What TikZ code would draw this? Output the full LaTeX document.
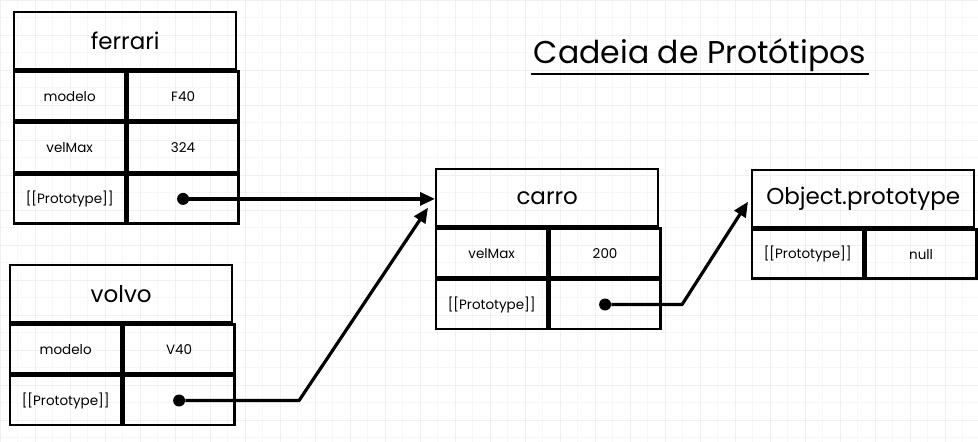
\documentclass[tikz,border=0pt]{standalone}
\usepackage{fontspec}
\setmainfont{Poppins}
\usetikzlibrary{positioning,arrows.meta}

\begin{document}
\begin{tikzpicture}[x=1pt,y=-1pt,
    header/.style={draw, line width=2.4pt, minimum width=222pt, minimum height=57pt,
        inner sep=0pt, font=\fontsize{23}{25}\selectfont},
    cell/.style={draw, line width=2.4pt, minimum width=111pt, minimum height=49pt,
        inner sep=0pt, font=\fontsize{13.5}{15}\selectfont},
    ptr/.style={circle, fill, inner sep=0pt, minimum size=12pt},
    link/.style={line width=3.2pt, line join=round, -{Triangle[length=15pt,width=13pt]}},
    gridline/.style={black!6, line width=0.6pt}]
    \useasboundingbox (0,0) rectangle (978,442);
    \fill [white] (0,0) rectangle (978,442);
    \begin{scope}
        \clip (0,0) rectangle (978,442);
        \draw [gridline, black!3, step=17.5pt] (-37,-25) grid (1013,477);
        \draw [gridline, step=35pt] (-37,-25) grid (1013,477);
    \end{scope}

    % title
    \node [font=\fontsize{31.5}{36}\selectfont, inner sep=0pt, anchor=base] (heading) at (700,63) {Cadeia de Protótipos};
    \draw [line width=2pt] ([xshift=-3pt,yshift=-11pt]heading.base west) -- ([xshift=3pt,yshift=-11pt]heading.base east);

    % ferrari
    \node [header, anchor=north west] (ferrari) at (13,11) {ferrari};
    \node [cell, anchor=north west] (ferrari-key1) at (ferrari.south west) {modelo};
    \node [cell, right=0pt of ferrari-key1] (ferrari-val1) {F40};
    \node [cell, below=0pt of ferrari-key1] (ferrari-key2) {velMax};
    \node [cell, right=0pt of ferrari-key2] (ferrari-val2) {324};
    \node [cell, below=0pt of ferrari-key2] (ferrari-key3) {[[Prototype]]};
    \node [cell, right=0pt of ferrari-key3] (ferrari-val3) {};
    \node [ptr] (ferrari-ptr) at (ferrari-val3) {};

    % volvo
    \node [header, anchor=north west] (volvo) at (9,264) {volvo};
    \node [cell, anchor=north west] (volvo-key1) at (volvo.south west) {modelo};
    \node [cell, right=0pt of volvo-key1] (volvo-val1) {V40};
    \node [cell, below=0pt of volvo-key1] (volvo-key2) {[[Prototype]]};
    \node [cell, right=0pt of volvo-key2] (volvo-val2) {};
    \node [ptr] (volvo-ptr) at (volvo-val2) {};

    % carro
    \node [header, anchor=north west] (carro) at (435,168) {carro};
    \node [cell, anchor=north west] (carro-key1) at (carro.south west) {velMax};
    \node [cell, right=0pt of carro-key1] (carro-val1) {200};
    \node [cell, below=0pt of carro-key1] (carro-key2) {[[Prototype]]};
    \node [cell, right=0pt of carro-key2] (carro-val2) {};
    \node [ptr] (carro-ptr) at (carro-val2) {};

    % Object.prototype
    \node [header, anchor=north west] (object) at (751,169) {Object.prototype};
    \node [cell, anchor=north west] (object-key1) at (object.south west) {[[Prototype]]};
    \node [cell, right=0pt of object-key1] (object-val1) {null};

    % prototype links
    \coordinate (volvo-bend) at ([xshift=120pt]volvo-ptr.center);
    \coordinate (carro-in) at ([xshift=-7pt,yshift=-10pt]carro.west);
    \coordinate (carro-bend) at ([xshift=77pt]carro-ptr.center);
    \coordinate (object-in) at ([xshift=-3pt,yshift=-3pt]object.west);
    \draw [link] (ferrari-ptr) -- (ferrari-ptr -| carro.west);
    \draw [link] (volvo-ptr) -- (volvo-bend) -- (carro-in);
    \draw [link] (carro-ptr) -- (carro-bend) -- (object-in);
\end{tikzpicture}
\end{document}
